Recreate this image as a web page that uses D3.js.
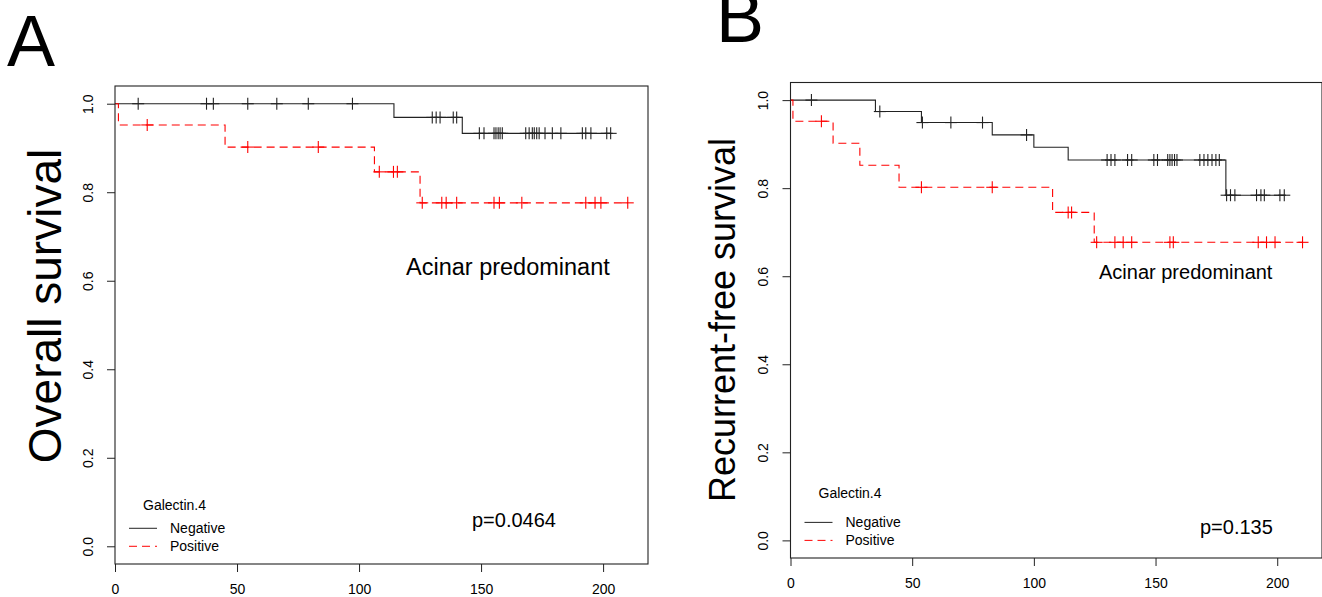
<!DOCTYPE html>
<html>
<head>
<meta charset="utf-8">
<script src="https://cdn.jsdelivr.net/npm/d3@7"></script>
<style>
  body { margin: 0; background: #fff; }
  svg { display: block; font-family: "Liberation Sans", Arial, sans-serif; }
</style>
</head>
<body>
<svg width="1322" height="597"></svg>
<script>
// Overall survival (panel A): step times, survival levels, censored times
const osNegTime = [0, 114.3, 142.3];
const osNegSurv = [1, 0.969, 0.933];
const osNegCens = [9.5, 37.5, 40.3, 54.4, 66.3, 79.2, 97.3, 130, 131.6, 133.2, 138.6, 140,
  149.3, 151.2, 155.3, 156.1, 157, 157.8, 158.7, 168.3, 169.7, 171, 171.8, 172.8, 173.8,
  176.2, 179.2, 182.7, 191.5, 192.9, 195, 201.5, 203.1];
const osPosTime = [0, 1.4, 45.1, 106.3, 125];
const osPosSurv = [1, 0.952, 0.902, 0.846, 0.776];
const osPosCens = [13.2, 54.4, 83.3, 108.3, 114.1, 115.7, 125.9, 133.9, 135.7, 140.0,
  155.3, 157.5, 166.7, 192.9, 196.7, 199.1, 210.1];

// Recurrent-free survival (panel B)
const rfsNegTime = [0, 34.9, 53.8, 82.9, 100, 114.1, 178.9];
const rfsNegSurv = [1, 0.974, 0.949, 0.921, 0.893, 0.864, 0.784];
const rfsNegCens = [8.6, 36.7, 54.2, 65.9, 78.9, 97, 130.1, 131.7, 133.3, 138.5, 140.2,
  149.3, 150.8, 155, 155.9, 156.8, 157.8, 158.8, 168.2, 169.9, 171.5, 173.2, 174.8, 176.2,
  179.2, 180.8, 182.6, 191.5, 193.3, 194.7, 201.1, 202.9];
const rfsPosTime = [0, 1, 17.5, 28.5, 44.6, 107.7, 124.8];
const rfsPosSurv = [1, 0.952, 0.902, 0.852, 0.802, 0.745, 0.677];
const rfsPosCens = [12.7, 53.8, 82.9, 114.1, 115.5, 125.8, 133.3, 136.7, 140.2, 155.9,
  157.3, 192.2, 195.6, 199.1, 210.4];

const xTicks = [0, 50, 100, 150, 200];
const yTicks = [0, 0.2, 0.4, 0.6, 0.8, 1.0];
const groups = ["Negative", "Positive"];
const legendTitle = "Galectin.4";
const subtype = "Acinar predominant";

const svg = d3.select("svg");
const red = "#ff0000";
const dark = "#222";

function drawPanel(p) {
  const x = d3.scaleLinear().domain([0, 218.4]).range([p.left, p.right]);
  const y = d3.scaleLinear().domain([-0.04, 1.04]).range([p.bottom, p.top]);
  const g = svg.append("g");

  // curves
  const line = d3.line().x(d => x(d[0])).y(d => y(d[1])).curve(d3.curveStepAfter);
  p.curves.forEach(c => {
    const end = d3.max(c.cens);
    const pts = c.time.map((t, i) => [t, c.surv[i]]);
    pts.push([end, c.surv[c.surv.length - 1]]);
    g.append("path")
      .attr("d", line(pts))
      .attr("fill", "none")
      .attr("stroke", c.color)
      .attr("stroke-width", 1.1)
      .attr("stroke-dasharray", c.dash);
    // censor marks
    const level = t => c.surv[d3.bisectRight(c.time, t) - 1];
    const marks = g.append("g").attr("stroke", c.color).attr("stroke-width", 1.1);
    c.cens.forEach(t => {
      const cx = x(t), cy = y(level(t));
      marks.append("line").attr("x1", cx - 6).attr("x2", cx + 6).attr("y1", cy).attr("y2", cy);
      marks.append("line").attr("x1", cx).attr("x2", cx).attr("y1", cy - 6).attr("y2", cy + 6);
    });
  });

  // box
  g.append("rect")
    .attr("x", p.left).attr("y", p.top)
    .attr("width", p.right - p.left).attr("height", p.bottom - p.top)
    .attr("fill", "none").attr("stroke", dark).attr("stroke-width", 1.1);

  // axes
  const xa = g.append("g").attr("transform", `translate(0,${p.bottom})`)
    .call(d3.axisBottom(x).tickValues(xTicks).tickSize(8).tickPadding(12).tickFormat(d3.format("d")));
  xa.select(".domain").remove();
  xa.selectAll("line").attr("stroke", dark);
  xa.selectAll("text").attr("font-size", 14).attr("fill", "#000").attr("font-family", null);

  const ya = g.append("g").attr("transform", `translate(${p.left},0)`)
    .call(d3.axisLeft(y).tickValues(yTicks).tickSize(8).tickFormat(d3.format(".1f")));
  ya.select(".domain").remove();
  ya.selectAll("line").attr("stroke", dark);
  ya.selectAll("text")
    .attr("font-size", 14).attr("fill", "#000").attr("font-family", null)
    .attr("x", null).attr("dy", null)
    .attr("text-anchor", "middle")
    .attr("transform", "translate(-27,0) rotate(-90)")
    .attr("dy", "0.35em");

  // y title
  g.append("text")
    .attr("transform", `translate(${p.titleX},${p.titleY}) rotate(-90)`)
    .attr("text-anchor", "middle")
    .attr("font-size", p.titleSize)
    .text(p.ylab);

  // panel letter
  g.append("text").attr("x", p.letterX).attr("y", p.letterY)
    .attr("font-size", 72).text(p.letter);

  // annotations
  g.append("text").attr("x", p.subX).attr("y", p.subY)
    .attr("font-size", p.subSize).text(subtype);
  g.append("text").attr("x", p.pX).attr("y", p.pY)
    .attr("font-size", 20).text(p.pval);

  // legend
  const y0 = y(0);
  g.append("text").attr("x", p.left + 28).attr("y", y0 - p.legTitleGap)
    .attr("font-size", 14).text(legendTitle);
  groups.forEach((name, i) => {
    const ly = y0 - 18 + i * 18;
    g.append("line")
      .attr("x1", p.left + 14).attr("x2", p.left + 42)
      .attr("y1", ly).attr("y2", ly)
      .attr("stroke", p.curves[i].color)
      .attr("stroke-dasharray", p.curves[i].dash);
    g.append("text").attr("x", p.left + 55).attr("y", ly).attr("dy", "0.35em")
      .attr("font-size", 14).text(name);
  });
}

drawPanel({
  left: 115, right: 648, top: 86, bottom: 564,
  ylab: "Overall survival", titleSize: 46, titleX: 61, titleY: 306,
  letter: "A", letterX: 7, letterY: 66,
  subX: 406, subY: 275, subSize: 23.5, pval: "p=0.0464", pX: 472, pY: 527,
  legTitleGap: 36,
  curves: [
    { time: osNegTime, surv: osNegSurv, cens: osNegCens, color: dark, dash: null },
    { time: osPosTime, surv: osPosSurv, cens: osPosCens, color: red, dash: "8,5" }
  ]
});

drawPanel({
  left: 790.5, right: 1322, top: 82.5, bottom: 558,
  ylab: "Recurrent-free survival", titleSize: 36, titleX: 735, titleY: 320,
  letter: "B", letterX: 716, letterY: 42,
  subX: 1099, subY: 279, subSize: 20, pval: "p=0.135", pX: 1200, pY: 534,
  legTitleGap: 42,
  curves: [
    { time: rfsNegTime, surv: rfsNegSurv, cens: rfsNegCens, color: dark, dash: null },
    { time: rfsPosTime, surv: rfsPosSurv, cens: rfsPosCens, color: red, dash: "8,5" }
  ]
});
</script>
</body>
</html>
